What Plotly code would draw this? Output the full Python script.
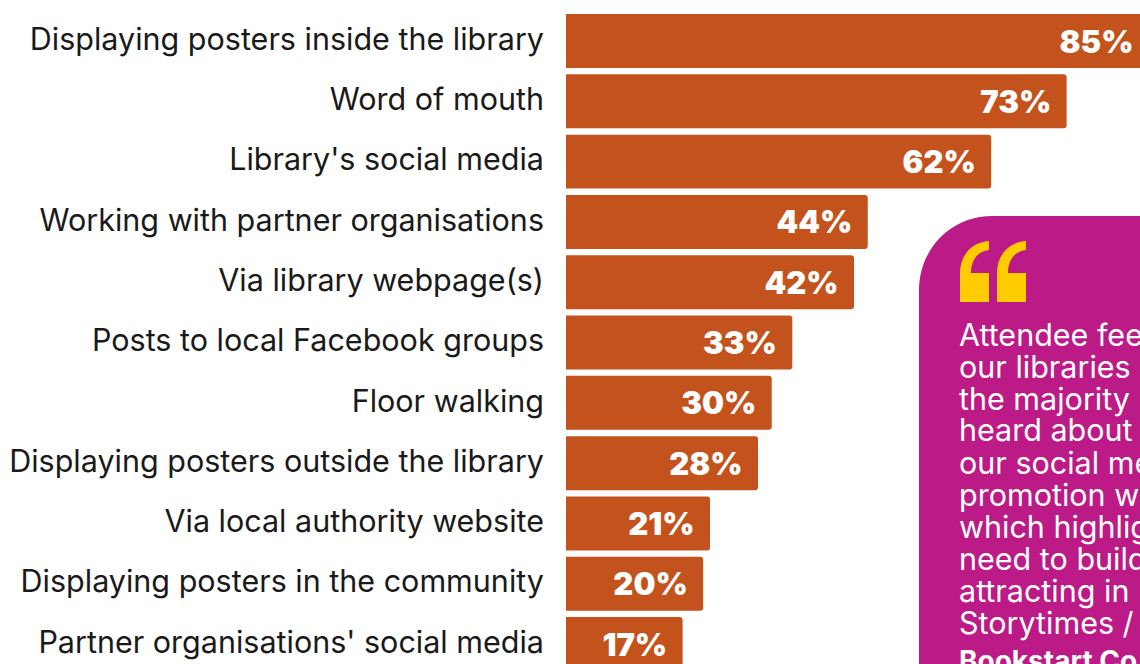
import plotly.graph_objects as go

categories = ["Displaying posters inside the library", "Word of mouth", "Library's social media",
              "Working with partner organisations", "Via library webpage(s)", "Posts to local Facebook groups",
              "Floor walking", "Displaying posters outside the library", "Via local authority website",
              "Displaying posters in the community", "Partner organisations' social media"]
values = [85, 73, 62, 44, 42, 33, 30, 28, 21, 20, 17]
quote_lines = ["Attendee feedback", "our libraries", "the majority", "heard about", "our social media",
               "promotion w", "which highlights", "need to build", "attracting in", "Storytimes /"]
quote_source = "Bookstart Co"

W, H = 1140, 664
L = 566
PAD = "\u00a0\u00a0"
BAR = "#C4521C"
MAG = "#BC1A87"
YEL = "#FFCC00"
FONT = "Inter"

def X(px): return (px - L) / (W - L)
def Y(py): return 1 - py / H
def P(px, py): return f"{X(px):.5f},{Y(py):.5f}"

fig = go.Figure(go.Bar(
    y=categories, x=values, orientation="h",
    marker=dict(color=BAR, cornerradius=3, line_width=0),
    text=[f"{v}%{PAD}" for v in values], textposition="inside", insidetextanchor="end",
    textangle=0, constraintext="none", cliponaxis=True,
    textfont=dict(family=FONT, size=31, color="white", weight=900),
    hoverinfo="skip",
))

panel = f"M {P(919,H+40)} L {P(919,290)} C {P(919,250)} {P(950,216)} {P(992,216)} L {P(W+40,216)} L {P(W+40,H+40)} Z"
shapes = [dict(type="path", xref="paper", yref="paper", path=panel, fillcolor=MAG, line_width=0, layer="above")]
for dx in (0, 37):
    q = (f"M {P(960+dx,302)} L {P(989+dx,302)} L {P(989+dx,273)} L {P(971+dx,273)} "
         f"C {P(971+dx,260)} {P(978+dx,251)} {P(989+dx,250)} L {P(989+dx,241)} "
         f"C {P(972+dx,242)} {P(960+dx,255)} {P(960+dx,273)} Z")
    shapes.append(dict(type="path", xref="paper", yref="paper", path=q, fillcolor=YEL, line_width=0, layer="above"))

ann = []
for i, t in enumerate(quote_lines):
    ann.append(dict(text=t, xref="paper", yref="paper", x=X(959), y=Y(334 + i * 32), xanchor="left", yanchor="middle",
                    showarrow=False, font=dict(family=FONT, size=30.5, color="white"), xshift=-2))
ann.append(dict(text=f"<b>{quote_source}</b>", xref="paper", yref="paper", x=X(959), y=Y(661), xanchor="left",
                yanchor="middle", showarrow=False, font=dict(family=FONT, size=28, color="white", weight=900), xshift=-2))

fig.update_layout(
    width=W, height=H, margin=dict(l=L, r=0, t=0, b=0), paper_bgcolor="white", plot_bgcolor="white",
    bargap=0.105, showlegend=False, shapes=shapes, annotations=ann,
    xaxis=dict(range=[0, 83.7], visible=False),
    yaxis=dict(type="category", range=[10.33, -0.68], showgrid=False, showline=False, ticks="", ticklabelstandoff=21,
               ticklabelshift=2, tickfont=dict(family=FONT, size=30.5, color="#1a1a1a")),
)
fig.write_html("out.html", config=dict(displayModeBar=False),
               post_script="document.body.style.margin='0';document.body.style.overflow='hidden';")
